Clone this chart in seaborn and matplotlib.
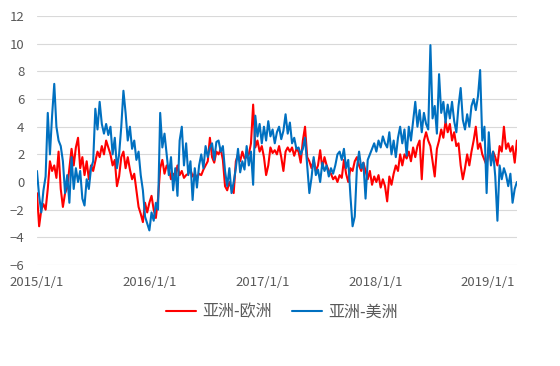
import pandas as pd
import numpy as np
import seaborn as sns
import matplotlib.pyplot as plt

# weekly readings, starting 2015/1/1
start_date = "2015-01-01"
series_names = ["亚洲-欧洲", "亚洲-美洲"]

asia_europe = [
    -0.8, -3.2, -2.0, -1.6, -2.0, -0.5, 1.5, 0.8, 1.2, 0.3,
    2.2, -0.5, -1.8, -0.8, -0.4, 1.0, 2.4, 1.2, 2.5, 3.2,
    1.0, 1.8, 0.5, 1.5, 0.2, 1.2, 0.8, 1.5, 2.2, 1.8,
    2.6, 2.0, 3.0, 2.5, 2.0, 1.2, 1.6, -0.3, 0.4, 1.8,
    2.2, 1.0, 1.8, 0.9, 0.2, 0.6, -0.6, -1.8, -2.3, -2.9,
    -1.5, -2.2, -1.5, -1.0, -2.0, -2.6, -1.2, 1.0, 1.6, 0.6,
    1.2, 1.0, 0.2, 0.6, 0.3, 1.2, 0.5, 0.8, 0.3, 0.5,
    0.6, 0.9, 0.4, 0.6, 0.3, 0.6, 0.5, 0.9, 1.2, 1.5,
    3.2, 1.8, 1.4, 2.2, 2.0, 2.4, 1.6, -0.3, -0.6, 0.0,
    -0.5, -0.8, 1.5, 2.0, 1.5, 2.2, 1.7, 1.8, 2.0, 2.8,
    5.6, 2.5, 3.0, 2.2, 2.6, 1.8, 0.5, 1.2, 2.5, 2.1,
    2.3, 2.0, 2.6, 1.8, 0.8, 2.2, 2.5, 2.2, 2.5, 1.9,
    2.4, 2.2, 1.4, 3.0, 4.0, 1.8, 1.5, 1.0, 1.6, 0.8,
    1.2, 2.3, 1.0, 1.8, 1.2, 0.8, 0.6, 0.2, 0.4, 0.0,
    0.5, 0.3, 1.6, 0.6, 0.0, 1.0, 0.8, 1.5, 1.8, 1.2,
    0.8, 1.4, 0.8, 0.2, 0.8, -0.2, 0.4, 0.0, 0.5, -0.4,
    0.2, -0.3, -1.4, 0.4, -0.2, 0.6, 1.2, 0.8, 2.0, 1.2,
    2.0, 1.7, 2.2, 1.5, 2.5, 1.8, 2.6, 3.0, 0.2, 3.0,
    3.6, 3.0, 2.6, 1.5, 0.4, 2.4, 3.0, 3.8, 3.2, 4.4,
    3.6, 4.2, 3.0, 3.6, 2.6, 2.8, 1.2, 0.2, 1.0, 2.0,
    1.2, 2.2, 3.0, 4.0, 2.4, 2.8, 2.0, 1.6, 1.2, 2.5,
    1.5, 2.2, 1.8, 1.2, 2.6, 2.2, 4.0, 2.4, 2.8, 2.2,
    2.6, 1.4, 3.0,
]

asia_america = [
    0.8, -1.0, -2.2, -0.6, 0.4, 5.0, 2.0, 4.8, 7.1, 4.0,
    3.0, 2.6, 1.5, -0.8, 0.5, -1.5, 1.8, -0.5, 1.0, 0.0,
    0.8, -1.2, -1.7, 0.2, -0.5, 1.0, 1.5, 5.3, 3.8, 5.8,
    4.2, 3.5, 4.2, 3.4, 4.0, 2.0, 3.2, 1.0, 2.0, 4.0,
    6.6, 5.0, 3.0, 4.0, 2.4, 3.0, 1.6, 2.2, 0.5, -0.6,
    -2.5, -3.0, -3.5, -2.2, -2.8, -1.5, -2.0, 5.0, 2.5, 3.5,
    2.0, 0.5, 1.8, -0.6, 1.0, -1.0, 3.0, 4.0, 1.2, 2.8,
    0.5, 1.5, -1.3, 1.0, -0.4, 1.2, 2.0, 1.0, 2.6, 1.8,
    2.5, 2.8, 1.6, 2.9, 3.0, 2.2, 2.6, 0.8, -0.3, 1.0,
    -0.8, 0.0, 1.0, 2.4, 0.7, 1.5, 0.9, 2.6, 1.2, 2.2,
    -0.2, 4.8, 3.3, 4.2, 2.8, 4.0, 3.0, 4.4, 3.3, 3.8,
    2.8, 3.6, 4.0, 3.1, 3.7, 4.9, 3.5, 4.3, 2.8, 3.2,
    2.4, 2.5, 2.0, 2.4, 3.2, 1.2, -0.8, 0.3, 1.8, 0.5,
    0.9, 0.0, 1.4, 0.8, 1.2, 0.4, 1.0, 0.6, 1.2, 2.0,
    2.2, 1.6, 2.4, 1.0, 1.6, -1.0, -3.2, -2.5, 1.0, 2.2,
    1.0, 1.4, -1.2, 1.6, 2.0, 2.4, 2.8, 2.2, 3.0, 2.5,
    3.3, 2.8, 2.5, 3.6, 2.0, 3.0, 1.8, 3.2, 4.0, 2.8,
    3.8, 1.9, 4.0, 3.0, 4.4, 5.8, 4.0, 5.2, 3.6, 5.0,
    4.2, 3.8, 9.9, 4.6, 5.5, 3.5, 7.8, 5.0, 5.8, 4.3,
    5.6, 4.6, 5.8, 4.4, 3.6, 5.5, 6.8, 4.5, 3.8, 4.9,
    4.0, 5.5, 6.0, 5.2, 6.2, 8.1, 3.0, 4.0, -0.8, 3.6,
    1.2, 2.2, 0.4, -2.8, 1.2, 0.2, 1.0, 0.5, -0.3, 0.6,
    -1.5, -0.5, 0.0,
]

year_ticks = ["2015-01-01", "2016-01-01", "2017-01-01", "2018-01-01", "2019-01-01"]
tick_labels = ["2015/1/1", "2016/1/1", "2017/1/1", "2018/1/1", "2019/1/1"]

dates = pd.date_range(start_date, periods=len(asia_europe), freq="7D")
df = pd.concat([
    pd.DataFrame({"date": dates, "value": asia_europe, "route": series_names[0]}),
    pd.DataFrame({"date": dates, "value": asia_america, "route": series_names[1]}),
])

sns.set_theme(style="whitegrid")
plt.rcParams['font.family'] = ['Noto Sans CJK SC', 'DejaVu Sans']

fig = plt.figure(figsize=(5.6, 3.66), dpi=100)
ax = fig.add_axes([0.066, 0.276, 0.857, 0.68])

sns.lineplot(data=df, x="date", y="value", hue="route",
             palette=["#FF0000", "#0070C0"], linewidth=1.5,
             estimator=None, ax=ax)

ax.set_ylim(-6, 12)
ax.set_yticks(range(-6, 13, 2))
ax.set_xlim(pd.Timestamp(start_date), dates[-1])
ax.set_xticks(pd.to_datetime(year_ticks))
ax.set_xticklabels(tick_labels)
ax.set_xlabel("")
ax.set_ylabel("")

ax.grid(axis="x", visible=False)
ax.grid(axis="y", color="#D9D9D9", linewidth=0.8)
for s in ax.spines.values():
    s.set_visible(False)
ax.tick_params(length=0, labelsize=9.5, labelcolor="#595959")
ax.tick_params(axis="x", pad=8)
ax.tick_params(axis="y", pad=9)

leg = ax.legend(loc="center", bbox_to_anchor=(282 / 560, 0.1475),
                bbox_transform=fig.transFigure, ncol=2, frameon=False,
                fontsize=11.5, handlelength=1.88, handletextpad=0.38,
                columnspacing=1.25)
for t in leg.get_texts():
    t.set_color("#595959")
for l in leg.get_lines():
    l.set_linewidth(1.5)

fig.savefig("out.png", dpi=100)
